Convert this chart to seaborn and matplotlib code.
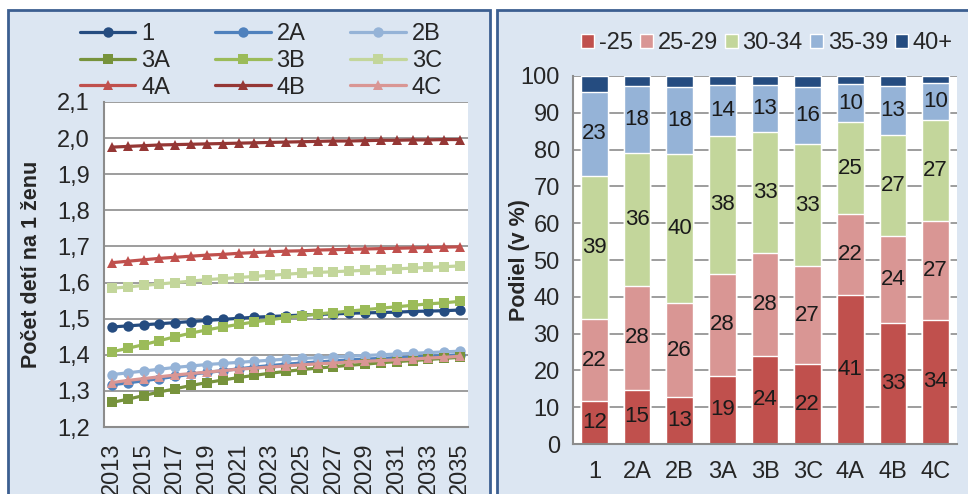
import matplotlib
matplotlib.use("Agg")
from matplotlib import pyplot as plt
from matplotlib.patches import Rectangle
import numpy as np
import pandas as pd
import seaborn as sb

# ---- data: fertility scenarios (left) ----
years = list(range(2013, 2036))
s_1 = [1.477, 1.480, 1.483, 1.486, 1.489, 1.492, 1.495, 1.498, 1.501, 1.504, 1.506, 1.508,
       1.510, 1.512, 1.513, 1.515, 1.516, 1.517, 1.518, 1.520, 1.521, 1.522, 1.524]
s_2A = [1.317, 1.322, 1.328, 1.334, 1.340, 1.346, 1.351, 1.356, 1.361, 1.366, 1.370, 1.374,
        1.377, 1.380, 1.383, 1.386, 1.388, 1.390, 1.392, 1.394, 1.396, 1.398, 1.400]
s_2B = [1.345, 1.350, 1.355, 1.360, 1.365, 1.369, 1.373, 1.376, 1.379, 1.382, 1.385, 1.388,
        1.390, 1.392, 1.394, 1.396, 1.398, 1.400, 1.402, 1.404, 1.406, 1.408, 1.410]
s_3A = [1.268, 1.277, 1.287, 1.297, 1.306, 1.315, 1.323, 1.330, 1.337, 1.343, 1.349, 1.354,
        1.359, 1.363, 1.367, 1.371, 1.374, 1.378, 1.381, 1.384, 1.387, 1.390, 1.393]
s_3B = [1.408, 1.418, 1.428, 1.439, 1.450, 1.460, 1.469, 1.477, 1.484, 1.491, 1.497, 1.503,
        1.508, 1.513, 1.517, 1.521, 1.525, 1.529, 1.533, 1.537, 1.541, 1.544, 1.548]
s_3C = [1.584, 1.588, 1.592, 1.596, 1.600, 1.604, 1.608, 1.611, 1.614, 1.617, 1.620, 1.623,
        1.626, 1.628, 1.630, 1.632, 1.634, 1.636, 1.638, 1.640, 1.642, 1.644, 1.646]
s_4A = [1.655, 1.659, 1.663, 1.667, 1.670, 1.673, 1.676, 1.678, 1.681, 1.683, 1.685, 1.687,
        1.688, 1.690, 1.691, 1.692, 1.693, 1.694, 1.695, 1.696, 1.697, 1.698, 1.699]
s_4B = [1.975, 1.977, 1.979, 1.981, 1.982, 1.983, 1.984, 1.985, 1.986, 1.987, 1.988, 1.989,
        1.990, 1.991, 1.992, 1.992, 1.993, 1.994, 1.994, 1.995, 1.995, 1.996, 1.996]
s_4C = [1.323, 1.329, 1.334, 1.339, 1.344, 1.348, 1.352, 1.356, 1.360, 1.363, 1.366, 1.369,
        1.372, 1.375, 1.377, 1.380, 1.382, 1.384, 1.386, 1.388, 1.391, 1.393, 1.396]

# ---- data: share by mother's age (right) ----
scenarios = ["1", "2A", "2B", "3A", "3B", "3C", "4A", "4B", "4C"]
age_groups = ["-25", "25-29", "30-34", "35-39", "40+"]
age_u25 = [11.6, 14.8, 12.7, 18.6, 24.0, 21.7, 40.6, 32.8, 33.8]
age_25_29 = [22.3, 28.1, 25.6, 27.6, 27.9, 26.6, 21.9, 23.8, 26.8]
age_30_34 = [38.9, 36.3, 40.4, 37.6, 32.8, 33.2, 24.9, 27.4, 27.4]
age_35_39 = [22.9, 18.1, 18.4, 13.8, 12.9, 15.6, 10.4, 13.2, 10.2]
age_40p = [4.3, 2.7, 2.9, 2.4, 2.4, 2.9, 2.2, 2.8, 1.8]

sb.set_style("white")
plt.rcParams["font.family"] = ["Liberation Sans", "DejaVu Sans"]

fig = plt.figure(figsize=(9.68, 4.94), dpi=100)
W, H = 968.0, 494.0
fs = 17

# panel backgrounds
bg = "#DCE6F2"
edge = "#3C5F91"
for x0, w in [(8, 482), (497, 480)]:
    r = Rectangle((x0 / W, -0.05), w / W, 1.05 - 10 / H, transform=fig.transFigure,
                  facecolor=bg, edgecolor=edge, linewidth=2, zorder=-10)
    fig.add_artist(r)

# ---------------- left: line chart ----------------
ax1 = fig.add_axes([104 / W, 1 - 427 / H, 364 / W, 325 / H])
series = [("1", s_1, "#254C80", "o"), ("2A", s_2A, "#4F81BD", "o"), ("2B", s_2B, "#95B3D7", "o"),
          ("3A", s_3A, "#77933C", "s"), ("3B", s_3B, "#9BBB59", "s"), ("3C", s_3C, "#C3D69B", "s"),
          ("4A", s_4A, "#C0504D", "^"), ("4B", s_4B, "#953735", "^"), ("4C", s_4C, "#D99694", "^")]
xpos = np.arange(len(years))
for name, vals, col, mk in series:
    df = pd.DataFrame({"x": xpos, "y": vals})
    sb.lineplot(data=df, x="x", y="y", ax=ax1, color=col, marker=mk, markersize=7.5,
                markeredgewidth=0, linewidth=2.3, label=name)

ax1.set_xlim(-0.5, len(years) - 0.5)
ax1.set_ylim(1.2, 2.1)
ax1.set_yticks(np.arange(1.2, 2.11, 0.1))
ax1.set_yticklabels([("%.1f" % v).replace(".", ",") for v in np.arange(1.2, 2.11, 0.1)], fontsize=fs)
ax1.set_xticks(np.arange(-0.5, len(years), 1.0))
ax1.set_xticklabels([])
ax1.set_xticks(xpos[::2], minor=True)
ax1.set_xticklabels([str(y) for y in years[::2]], minor=True, rotation=90, fontsize=fs)
ax1.tick_params(axis="x", which="minor", length=0, pad=11)
ax1.tick_params(axis="x", which="major", length=6, color="#8C8C8C", width=1.2)
ax1.tick_params(axis="y", length=6, color="#8C8C8C", width=1.2, pad=4)
ax1.grid(axis="y", color="#8C8C8C", linewidth=1.2)
ax1.set_axisbelow(True)
for s in ["top", "right"]:
    ax1.spines[s].set_visible(False)
for s in ["left", "bottom"]:
    ax1.spines[s].set_color("#8C8C8C")
    ax1.spines[s].set_linewidth(1.5)
ax1.set_xlabel("")
ax1.set_ylabel("Počet detí na 1 ženu", fontsize=15.5, fontweight="bold")
ax1.yaxis.set_label_coords((42 - 104) / 364, 0.5)
h1, l1 = ax1.get_legend_handles_labels()
# matplotlib fills legend columns first, reorder so rows read 1 2A 2B / 3A 3B 3C / 4A 4B 4C
leg_order = [0, 3, 6, 1, 4, 7, 2, 5, 8]
ax1.legend([h1[k] for k in leg_order], [l1[k] for k in leg_order], ncol=3, loc="center left",
           bbox_to_anchor=(80 / W, 1 - 61 / H), bbox_transform=fig.transFigure, frameon=False,
           fontsize=fs, handlelength=2.35, columnspacing=1.9, labelspacing=0.2, handletextpad=0.25,
           borderpad=0, borderaxespad=0)

# ---------------- right: stacked bars ----------------
ax2 = fig.add_axes([573 / W, 1 - 444 / H, 384 / W, 368 / H])
layers = [age_u25, age_25_29, age_30_34, age_35_39, age_40p]
bar_cols = ["#C0504D", "#D99694", "#C3D69B", "#95B3D7", "#254C80"]
tops = np.cumsum(np.array(layers), axis=0)
# draw tallest first so lower layers sit on top
for i in range(len(layers) - 1, -1, -1):
    df = pd.DataFrame({"scen": scenarios, "top": tops[i]})
    sb.barplot(data=df, x="scen", y="top", ax=ax2, color=bar_cols[i], width=0.63,
               saturation=1, label=age_groups[i])
for i in range(len(layers) - 1):
    for j in range(len(scenarios)):
        bottom = tops[i][j] - layers[i][j]
        ax2.text(j, bottom + layers[i][j] / 2, "%d" % round(layers[i][j]), ha="center", va="center",
                 fontsize=16, color="#1A1A1A")

ax2.set_ylim(0, 100)
ax2.set_xlim(-0.5, len(scenarios) - 0.5)
ax2.set_yticks(range(0, 101, 10))
ax2.tick_params(axis="y", labelsize=fs, length=6, color="#8C8C8C", width=1.2)
ax2.set_xticks(np.arange(-0.5, len(scenarios), 1.0))
ax2.set_xticklabels([])
ax2.set_xticks(range(len(scenarios)), minor=True)
ax2.set_xticklabels(scenarios, minor=True, fontsize=fs)
ax2.tick_params(axis="x", which="minor", length=0, pad=12)
ax2.tick_params(axis="x", which="major", length=6, color="#8C8C8C", width=1.2)
ax2.grid(axis="y", color="#8C8C8C", linewidth=1.2)
ax2.set_axisbelow(True)
for s in ["top", "right"]:
    ax2.spines[s].set_visible(False)
for s in ["left", "bottom"]:
    ax2.spines[s].set_color("#8C8C8C")
    ax2.spines[s].set_linewidth(1.5)
ax2.set_xlabel("")
ax2.set_ylabel("Podiel (v %)", fontsize=15.5, fontweight="bold")
ax2.yaxis.set_label_coords((530 - 573) / 384, 0.5)
handles, labels = ax2.get_legend_handles_labels()
order = [labels.index(g) for g in age_groups]
ax2.legend([handles[k] for k in order], age_groups, ncol=5, loc="center left",
           bbox_to_anchor=(581 / W, 1 - 43 / H), bbox_transform=fig.transFigure, frameon=False,
           fontsize=fs, handlelength=0.55, handleheight=0.55, handletextpad=0.2,
           columnspacing=0.3, borderpad=0, borderaxespad=0)

fig.savefig("out.png", dpi=100)
